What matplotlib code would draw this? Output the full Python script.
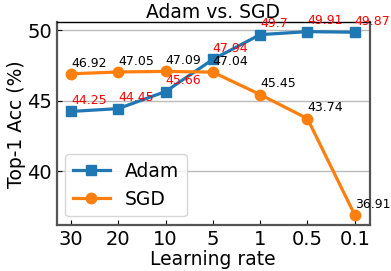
import matplotlib.pyplot as plt

lr_labels = ['30', '20', '10', '5', '1', '0.5', '0.1']
adam_acc = [44.25, 44.45, 45.66, 47.94, 49.7, 49.91, 49.87]
sgd_acc = [46.92, 47.05, 47.09, 47.04, 45.45, 43.74, 36.91]

fig, ax = plt.subplots(figsize=(3.91, 2.71), dpi=100)
x = list(range(len(lr_labels)))

ax.plot(x, adam_acc, marker='s', color='#1f77b4', lw=2.3, ms=7, label='Adam')
ax.plot(x, sgd_acc, marker='o', color='#ff7f0e', lw=2.3, ms=7.5, label='SGD')

for i in x:
    ax.text(i, adam_acc[i] + 0.3, str(adam_acc[i]), color='red', fontsize=9, ha='left', va='bottom')
    ax.text(i, sgd_acc[i] + 0.3, str(sgd_acc[i]), color='black', fontsize=9, ha='left', va='bottom')

ax.set_xticks(x)
ax.set_xticklabels(lr_labels)
ax.set_yticks([40, 45, 50])
ax.set_xlim(-0.3, 6.32)
ax.set_ylim(36.2, 50.56)
ax.tick_params(direction='in', labelsize=14)
ax.grid(axis='y', color='#bbbbbb', lw=1)
ax.set_axisbelow(True)
for s in ['left', 'bottom', 'right']:
    ax.spines[s].set_color('#555555')
    ax.spines[s].set_linewidth(1.6)
ax.spines['top'].set_linewidth(1.0)

ax.set_title('Adam vs. SGD', fontsize=13.5, pad=1)
ax.set_xlabel('Learning rate', fontsize=13.5, labelpad=1)
ax.set_ylabel('Top-1 Acc (%)', fontsize=13.5, labelpad=1)
ax.legend(loc='lower left', fontsize=13.5, borderaxespad=0.45)

fig.subplots_adjust(left=0.145, right=0.946, top=0.917, bottom=0.17)
fig.savefig('out.png')
